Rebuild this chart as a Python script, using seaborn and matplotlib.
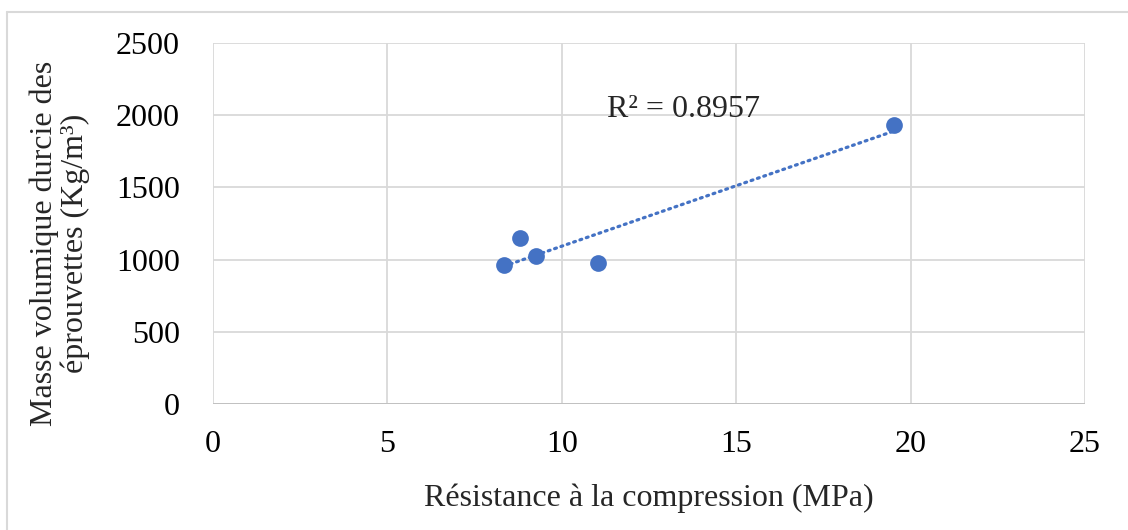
import matplotlib
matplotlib.use("Agg")
import matplotlib.pyplot as plt
import seaborn as sns
import pandas as pd
from matplotlib.lines import Line2D

# Compressive strength (MPa) vs hardened density (kg/m³)
resistance = [8.34, 8.80, 9.26, 11.03, 19.51]
masse_volumique = [963, 1150, 1025, 976, 1932]
r2_label = "R² = 0.8957"

x_ticks = [0, 5, 10, 15, 20, 25]
y_ticks = [0, 500, 1000, 1500, 2000, 2500]

df = pd.DataFrame({"x": resistance, "y": masse_volumique})

sns.set_theme(style="white")
plt.rcParams["font.family"] = ["Liberation Serif", "DejaVu Serif"]

blue = "#4472C4"
grid = "#d9d9d9"
fs = 23

fig = plt.figure(figsize=(11.28, 5.30), dpi=100)
ax = fig.add_axes([0.1888, 0.2377, 0.9619 - 0.1888, 0.9189 - 0.2377])

sns.regplot(data=df, x="x", y="y", ax=ax, ci=None, scatter=False, truncate=True,
            line_kws=dict(color=blue, lw=2.3, linestyle=(0, (0.6, 1.5)),
                          dash_capstyle="round", zorder=2))
sns.scatterplot(data=df, x="x", y="y", ax=ax, color=blue, s=145,
                edgecolor=blue, linewidth=0, zorder=3)

ax.set_xlim(0, 25)
ax.set_ylim(0, 2500)
ax.set_xticks(x_ticks)
ax.set_yticks(y_ticks)
ax.tick_params(axis="y", labelsize=fs, colors="#000000", length=0, pad=24)
ax.tick_params(axis="x", labelsize=fs, colors="#000000", length=0, pad=19)
ax.grid(True, color=grid, lw=1.3)
ax.set_axisbelow(True)
for sp in ax.spines.values():
    sp.set_visible(False)
ax.axhline(0, color="#bfbfbf", lw=1.3, zorder=1)

ax.set_xlabel("Résistance à la compression (MPa)", fontsize=fs, labelpad=17)
ax.set_ylabel("Masse volumique durcie des\néprouvettes (Kg/m³)", fontsize=fs,
              linespacing=1.05)
ax.yaxis.set_label_coords(-0.141, 0.446)

ax.text(13.5, 2036, r2_label, fontsize=fs, ha="center", va="center")

# chart frame (left and top edges)
fig.add_artist(Line2D([7 / 1128, 7 / 1128], [0, 1 - 12 / 530], color=grid, lw=1.5,
                      transform=fig.transFigure))
fig.add_artist(Line2D([7 / 1128, 1], [1 - 12 / 530, 1 - 12 / 530], color=grid, lw=1.5,
                      transform=fig.transFigure))

fig.savefig("out.png", dpi=100)
